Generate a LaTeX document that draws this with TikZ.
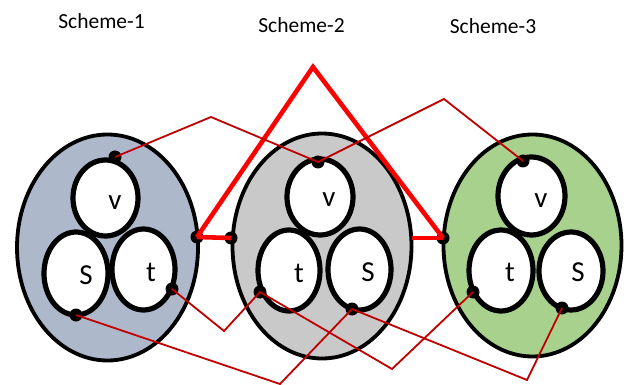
\documentclass[tikz,border=0pt]{standalone}
\usepackage{fontspec}
\setmainfont{Carlito}
\usetikzlibrary{shapes.geometric}
\definecolor{bluegray}{HTML}{ADB9CA}
\definecolor{midgray}{HTML}{C9C9C9}
\definecolor{leafgreen}{HTML}{A9D18E}
\definecolor{darkred}{HTML}{C00000}
\definecolor{brightred}{HTML}{FF0000}
\tikzset{
  outerset/.style={ellipse, draw=black, line width=3.8pt, inner sep=0pt},
  innerset/.style={ellipse, draw=black, line width=5.2pt, fill=white, inner sep=0pt},
  setlabel/.style={font=\fontsize{29}{31}\selectfont, inner sep=0pt},
  titletext/.style={font=\fontsize{21.5}{25}\selectfont, inner sep=0pt},
  dotmark/.style={circle, fill=black, minimum size=13pt, inner sep=0pt},
  thinlink/.style={draw=darkred, line width=1.8pt, line join=miter},
  thicklink/.style={draw=brightred, line width=4.6pt, line join=miter},
}
\begin{document}
\begin{tikzpicture}[x=1pt,y=-1pt]
\useasboundingbox (0,0) rectangle (630,385);
% titles
\node[titletext] (T1) at (101.5,21) {Scheme-1};
\node[titletext] (T2) at (301.5,25) {Scheme-2};
\node[titletext] (T3) at (493,26) {Scheme-3};
% outer ellipses
\node[outerset, fill=bluegray, minimum width=181pt, minimum height=226pt] (E1) at (107.5,247.5) {};
\node[outerset, fill=midgray, minimum width=179pt, minimum height=225pt] (E2) at (322,246) {};
\node[outerset, fill=leafgreen, minimum width=178pt, minimum height=222pt] (E3) at (532.5,245.5) {};
% inner sets scheme 1
\node[innerset, minimum width=65pt, minimum height=76pt] (V1) at (105.5,198) {};
\node[innerset, minimum width=64pt, minimum height=83pt] (S1) at (76,273.5) {};
\node[innerset, minimum width=63pt, minimum height=81pt] (Tt1) at (143.5,269.5) {};
% inner sets scheme 2
\node[innerset, minimum width=66pt, minimum height=76pt] (V2) at (320,197) {};
\node[innerset, minimum width=62pt, minimum height=81pt] (Tt2) at (289,270.5) {};
\node[innerset, minimum width=63pt, minimum height=81pt] (S2) at (359.5,269.5) {};
% inner sets scheme 3
\node[innerset, minimum width=67pt, minimum height=78pt] (V3) at (531.5,196) {};
\node[innerset, minimum width=64pt, minimum height=81pt] (Tt3) at (501,270.5) {};
\node[innerset, minimum width=64pt, minimum height=78pt] (S3) at (571,271) {};
% labels
\node[setlabel] (LV1) at (115,203) {v};
\node[setlabel] (LS1) at (86,275) {S};
\node[setlabel] (LT1) at (151,272) {t};
\node[setlabel] (LV2) at (329,200) {v};
\node[setlabel] (LT2) at (299,273) {t};
\node[setlabel] (LS2) at (368,272) {S};
\node[setlabel] (LV3) at (541,201) {v};
\node[setlabel] (LT3) at (510,272) {t};
\node[setlabel] (LS3) at (578,272) {S};
% dots
\node[dotmark] (d1v) at (115,157) {};
\node[dotmark] (d1r) at (197,237) {};
\node[dotmark] (d1t) at (172,289) {};
\node[dotmark] (d1s) at (76,315) {};
\node[dotmark] (d2v) at (318,162) {};
\node[dotmark] (d2l) at (231,238) {};
\node[dotmark] (d2t) at (260,292) {};
\node[dotmark] (d2s) at (352,309) {};
\node[dotmark] (d3v) at (523,161) {};
\node[dotmark] (d3l) at (443,238) {};
\node[dotmark] (d3t) at (473,292) {};
\node[dotmark] (d3s) at (562,308) {};
% waypoints
\coordinate (apex) at (313,67);
\coordinate (r2) at (412,238);
\coordinate (w1) at (211,117);
\coordinate (w2) at (444,99);
\coordinate (w3) at (224,331);
\coordinate (w4) at (392,369);
\coordinate (w5) at (280,384);
\coordinate (w6) at (527,380);
% thick red links
\draw[thicklink] (d1r.center) -- (d2l.center);
\draw[thicklink] (d1r.center) -- (apex) -- (d3l.center);
\draw[thicklink] (r2) -- (d3l.center);
% thin links
\draw[thinlink] (d1v.center) -- (w1) -- (d2v.center) -- (w2) -- (d3v.center);
\draw[thinlink] (d1t.center) -- (w3) -- (d2t.center) -- (w4) -- (d3t.center);
\draw[thinlink] (d1s.center) -- (w5) -- (d2s.center) -- (w6) -- (d3s.center);
\end{tikzpicture}
\end{document}
